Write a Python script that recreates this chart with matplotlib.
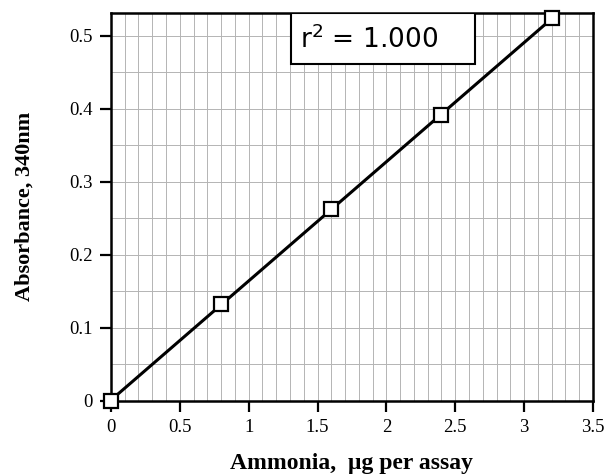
import numpy as np
import matplotlib
matplotlib.use("Agg")
import matplotlib.pyplot as plt
from matplotlib.patches import Rectangle
from matplotlib.ticker import MultipleLocator

# Standard curve data
ammonia = [0.0, 0.8, 1.6, 2.4, 3.2]
absorbance = [0.0, 0.133, 0.263, 0.391, 0.524]
x_ticks = [0, 0.5, 1, 1.5, 2, 2.5, 3, 3.5]
x_tick_labels = ['0', '0.5', '1', '1.5', '2', '2.5', '3', '3.5']
y_ticks = [0, 0.1, 0.2, 0.3, 0.4, 0.5]
y_tick_labels = ['0', '0.1', '0.2', '0.3', '0.4', '0.5']

# linear fit through the points
slope, intercept = np.polyfit(ammonia, absorbance, 1)
fit_x = np.array([ammonia[0], ammonia[-1]])
fit_y = slope * fit_x + intercept

serif = ['Liberation Serif', 'DejaVu Serif']
y_top = 0.5315

fig = plt.figure(figsize=(6.06, 4.75), dpi=100)
ax = fig.add_axes([0.183, 0.156, 0.7955, 0.817])

ax.plot(fit_x, fit_y, color='black', linewidth=2.2, zorder=3)
ax.plot(ammonia, absorbance, linestyle='none', marker='s', markersize=10,
        markerfacecolor='white', markeredgecolor='black', markeredgewidth=1.6,
        zorder=4, clip_on=False)

ax.set_xlim(0, 3.5)
ax.set_ylim(0, y_top)
ax.xaxis.set_minor_locator(MultipleLocator(0.1))
ax.yaxis.set_minor_locator(MultipleLocator(0.05))
ax.set_xticks(x_ticks)
ax.set_xticklabels(x_tick_labels, family=serif, fontsize=13.5)
ax.set_yticks(y_ticks)
ax.set_yticklabels(y_tick_labels, family=serif, fontsize=13.5)

ax.grid(which='both', color='#b4b4b4', linewidth=0.7)
ax.set_axisbelow(True)
ax.tick_params(which='major', direction='out', length=8, width=1.6, pad=5)
ax.tick_params(which='minor', length=0)
for s in ax.spines.values():
    s.set_linewidth(1.8)

ax.set_xlabel('Ammonia,  \u00b5g per assay', family=serif, fontweight='bold',
              fontsize=17, labelpad=12)
ax.set_ylabel('Absorbance, 340nm', family=serif, fontweight='bold',
              fontsize=16, labelpad=25)

# r^2 box
box = Rectangle((1.307, 0.4616), 2.643 - 1.307, y_top - 0.4616,
                facecolor='white', edgecolor='black', linewidth=1.5, zorder=5)
ax.add_patch(box)
ax.text(1.372, 0.4952, 'r$^{2}$ = 1.000', ha='left', va='center',
        fontsize=19, family='DejaVu Sans', zorder=6)

fig.savefig('out.png', dpi=100)
